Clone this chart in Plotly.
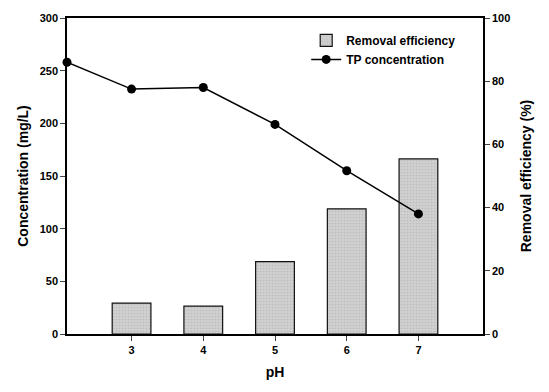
import plotly.graph_objects as go

ph_line = [2.1, 3, 4, 5, 6, 7]
tp_conc = [258, 232.5, 234, 199, 155, 114]
ph_bar = [3, 4, 5, 6, 7]
removal_eff = [9.8, 8.8, 22.9, 39.6, 55.4]

FONT = "Liberation Sans"

fig = go.Figure()
fig.add_trace(go.Bar(
    x=ph_bar, y=removal_eff, yaxis="y", name="Removal efficiency",
    width=0.54,
    marker=dict(color="#c8c8c8", line=dict(color="#111111", width=1.2),
                pattern=dict(shape=".", size=3, solidity=0.25, fgcolor="#a8a8a8", bgcolor="#d0d0d0")),
))
fig.add_trace(go.Scatter(
    x=ph_line, y=tp_conc, yaxis="y2", name="TP concentration", mode="lines+markers",
    line=dict(color="black", width=1.5),
    marker=dict(color="black", size=9),
    cliponaxis=False,
))

fig.update_layout(
    width=549, height=392,
    margin=dict(l=67, r=66, t=14, b=58),
    paper_bgcolor="white", plot_bgcolor="white",
    font=dict(family=FONT, color="black"),
    showlegend=True,
    legend=dict(x=0.575, y=0.975, xanchor="left", yanchor="top",
                bgcolor="rgba(0,0,0,0)", font=dict(size=12, family=FONT, weight="bold"),
                tracegroupgap=0, itemwidth=30),
    xaxis=dict(range=[2.1, 7.9], tickvals=[3, 4, 5, 6, 7], ticks="outside", ticklen=5,
               showline=True, linecolor="black", linewidth=1.5, mirror=True, showgrid=False,
               zeroline=False, tickfont=dict(size=11, weight="bold"),
               title=dict(text="pH", font=dict(size=14, weight="bold"), standoff=12)),
    yaxis=dict(range=[0, 100], tickvals=[0, 20, 40, 60, 80, 100], side="right",
               ticks="outside", ticklen=5, showline=True, linecolor="black", linewidth=1.5,
               showgrid=False, zeroline=False, tickfont=dict(size=11, weight="bold"),
               title=dict(text="Removal efficiency (%)", font=dict(size=14, weight="bold"), standoff=12)),
    yaxis2=dict(range=[0, 300], tickvals=[0, 50, 100, 150, 200, 250, 300], overlaying="y", side="left",
                ticks="outside", ticklen=5,
                showline=True, linecolor="black", linewidth=1.5, showgrid=False, zeroline=False,
                tickfont=dict(size=11, weight="bold"),
                title=dict(text="Concentration (mg/L)", font=dict(size=14, weight="bold"), standoff=8)),
)

fig.write_html("out.html")
